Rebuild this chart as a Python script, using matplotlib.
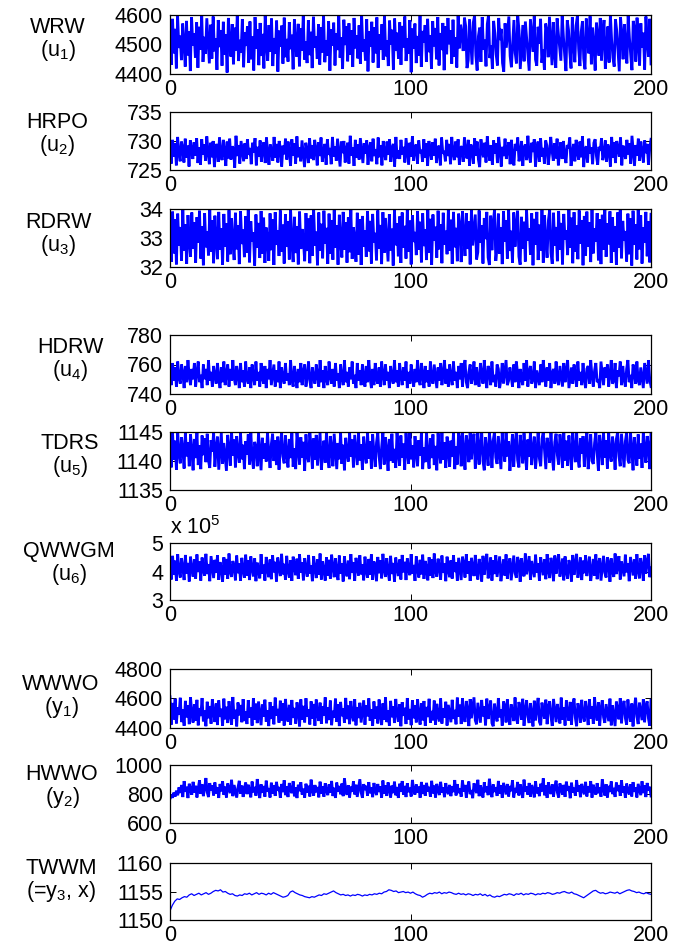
import numpy as np
import matplotlib
matplotlib.use('Agg')
import matplotlib.pyplot as plt

plt.rcParams['font.family'] = ['Liberation Sans', 'DejaVu Sans']
plt.rcParams['mathtext.fontset'] = 'custom'
plt.rcParams['mathtext.rm'] = 'Liberation Sans'
plt.rcParams['mathtext.default'] = 'regular'

# Signals (time axis 0..200)

wrw = [4512,4431,4587,4470,4553,4419,4596,4488,4530,4447,4571,4502,4425,4580,4463,4544,4410,4592,4497,4538,
       4456,4575,4421,4560,4483,4600,4441,4526,4468,4589,4509,4436,4567,4452,4595,4477,4520,4414,4583,4491,
       4549,4428,4577,4466,4534,4405,4590,4506,4459,4569,4433,4557,4480,4599,4444,4516,4472,4586,4423,4541,
       4495,4562,4438,4578,4450,4527,4412,4593,4486,4551,4430,4573,4461,4536,4419,4597,4503,4445,4566,4475,
       4588,4427,4522,4468,4581,4408,4547,4492,4564,4435,4591,4457,4519,4442,4576,4484,4533,4416,4585,4500,
       4458,4570,4426,4555,4479,4598,4449,4511,4437,4582,4464,4543,4420,4594,4489,4528,4451,4568,4432,4559,
       4473,4600,4440,4515,4462,4579,4411,4552,4496,4574,4429,4537,4481,4596,4455,4524,4417,4584,4498,4561,
       4443,4572,4466,4548,4424,4590,4487,4531,4453,4565,4434,4599,4476,4518,4446,4586,4409,4545,4493,4577,
       4439,4558,4470,4592,4421,4535,4483,4569,4448,4600,4460,4513,4427,4581,4499,4550,4415,4588,4478,4540,
       4452,4575,4431,4563,4490,4595,4444,4521,4468,4583,4406,4554,4485,4571,4437,4529,4462,4597,4424,4546,
       4507,4566,4441,4587,4474,4532,4418,4579,4494,4556,4450,4593,4429,4539,4481,4573,4413,4562,4467,4590,
       4501,4548,4435,4584,4458,4525,4422,4598,4487,4567,
       4533,4478,4591,4562,4420,4447,4586,4509,4432,4575,4598,4463,4412,4528,4557,4441,4593,4482,4516,4426,
       4569,4600,4454,4497,4418,4580,4538,4466,4429,4590,4515,4553,4437,4408,4572,4489,4544,4595,4461,4423,
       4506,4583,4471,4436,4597,4548,4417,4492,4566,4443,4578,4521,4459,4411,4586,4532,4475,4600,4449,4428,
       4560,4502,4587,4438,4483,4414,4571,4545,4457,4594,4511,4430,4576,4468,4421,4589,4537,4491,4445,4599,
       4526,4463,4410,4582,4550,4474,4419,4592,4508,4440,4565,4597,4485,4427,4543,4579,4452,4416,4588,4519,
       4470,4596,4433,4557,4499,4412,4574,4528,4462,4590,4446,4535,4583,4418,4481,4561,4439,4600,4514,4456,
       4425,4585,4547,4477,4409,4593,4530,4450,4569,4493,4436,4598,4523,4465,4413,4580,4556,4442,4591,4504,
       4429,4572,4489,4540,4415,4595,4518,4458,4587,4434]

hrpo = [728.4,726.1,730.2,727.3,729.6,725.8,730.7,727.9,726.5,729.9,728.8,726.3,730.4,727.1,729.2,725.6,730.1,728.6,726.9,729.8,
        727.5,730.5,726.2,728.9,725.9,730.3,727.7,729.4,726.6,730.8,728.1,726.0,729.7,727.2,730.0,725.5,728.7,729.5,726.4,730.6,
        727.8,726.7,730.2,728.3,725.7,729.9,727.0,730.4,726.8,729.1,728.5,725.4,730.9,727.4,729.3,726.1,730.0,728.2,726.5,729.6,
        726.9,730.3,727.6,728.8,726.0,729.7,728.0,730.5,725.8,729.0,727.3,730.1,726.4,728.6,729.8,726.2,730.6,727.9,725.9,729.4,
        728.3,726.6,730.7,727.1,729.5,726.3,730.0,728.7,725.6,729.2,727.7,730.4,726.8,729.9,728.1,725.7,730.3,727.5,729.6,726.1,
        730.8,727.2,728.9,726.5,730.1,727.8,725.5,729.7,728.4,726.2,730.5,727.0,729.3,726.7,730.2,728.6,725.8,729.8,727.4,730.6,
        726.4,728.2,729.5,725.9,730.3,727.6,728.8,726.0,730.7,727.3,729.1,726.6,730.4,728.0,725.6,729.9,727.9,730.0,726.3,728.5,
        729.7,726.1,730.9,727.5,728.9,725.7,730.2,727.1,729.4,726.8,730.5,728.3,726.2,729.6,727.8,730.1,725.9,728.7,729.8,726.5,
        730.4,727.4,728.6,726.0,730.6,727.2,729.3,725.8,730.0,728.1,726.7,729.9,727.6,730.3,726.4,728.8,729.5,725.6,730.7,727.0,
        728.4,726.9,730.2,727.7,729.0,726.3,730.5,728.2,725.9,729.7,727.3,730.8,726.6,728.9,729.4,726.1,730.1,727.9,728.5,726.4,
        730.3,727.1,729.6,725.7,730.0,728.6,726.8,729.8,727.5,730.4,726.2,728.7,729.2,725.8,730.6,727.8,728.3,726.5,730.2,727.4,
        729.5,726.0,730.7,728.0,726.7,729.9,727.2,730.3,725.9,728.8,
        729.1,726.4,730.6,728.2,727.0,730.2,725.7,729.4,728.8,726.1,730.5,727.5,729.9,726.8,725.5,730.3,728.4,727.2,729.7,726.3,
        730.8,728.0,726.6,729.3,725.9,730.1,727.8,729.6,726.2,730.7,728.5,725.6,729.0,727.4,730.4,726.9,728.7,729.8,726.0,730.2,
        727.1,725.8,729.5,728.3,730.6,726.5,727.9,730.0,725.7,728.9,729.4,726.7,730.9,727.6,726.3,729.7,728.1,730.3,725.6,728.6,
        729.9,726.4,730.5,727.3,728.8,726.1,730.1,729.2,725.9,727.7,730.7,728.4,726.6,729.6,727.0,730.4,725.8,728.2,729.8,726.9,
        730.0,727.5,726.2,729.3,728.7,730.6,725.7,727.9,729.5,726.5,730.2,728.0,726.8,729.9,727.2,730.8,725.5,728.5,729.1,726.3,
        730.4,727.8,728.9,726.0,729.7,730.3,727.4,725.9,729.0,728.3,730.5,726.7,727.6,730.1,726.4,729.4,728.6,725.6,730.7,727.1,
        729.8,726.2,730.0,728.8,727.3,730.6,725.8,729.2,728.1,726.9,730.2,727.7,729.6,726.1,730.9,728.4,725.7,729.3,727.5,730.4,
        726.6,729.9,728.2,726.3,730.1,727.9,729.5,725.9,728.7,730.3]

rdrw = [33.12,32.18,33.91,32.47,33.65,32.09,33.84,32.73,33.38,32.22,33.97,32.56,33.47,32.11,33.79,32.91,32.35,33.88,32.64,33.55,
        32.15,33.72,32.83,33.94,32.29,33.41,32.06,33.86,32.68,33.23,32.40,33.99,32.52,33.61,32.13,33.77,32.95,32.27,33.90,32.59,
        33.33,32.08,33.83,32.71,33.50,32.19,33.96,32.44,33.68,32.88,32.24,33.87,32.61,33.44,32.10,33.92,32.79,33.29,32.34,33.75,
        32.50,33.98,32.16,33.58,32.87,33.19,32.05,33.81,32.66,33.52,32.31,33.93,32.45,33.70,32.14,33.36,32.97,32.21,33.85,32.58,
        33.64,32.07,33.89,32.76,33.27,32.38,33.95,32.53,33.46,32.12,33.82,32.69,33.57,32.26,33.99,32.84,32.17,33.73,32.48,33.40,
        32.09,33.91,32.62,33.31,32.93,32.20,33.86,32.55,33.67,32.13,33.78,32.39,33.97,32.74,33.22,32.06,33.88,32.57,33.49,32.30,
        33.94,32.80,33.35,32.11,33.84,32.46,33.62,32.25,33.96,32.67,33.43,32.08,33.80,32.89,32.33,33.90,32.60,33.54,32.15,33.71,
        32.51,33.98,32.28,33.37,32.96,32.18,33.87,32.42,33.65,32.07,33.76,32.70,33.26,32.35,33.93,32.54,33.59,32.12,33.83,32.85,
        33.18,32.23,33.95,32.63,33.45,32.10,33.89,32.49,33.69,32.92,32.19,33.82,32.57,33.32,32.05,33.97,32.75,33.51,32.37,33.74,
        32.14,33.88,32.66,33.42,32.29,33.99,32.53,33.60,32.09,33.79,32.86,33.21,32.41,33.92,32.59,33.56,32.16,33.85,32.72,33.30,
        32.24,33.96,32.50,33.66,32.07,33.81,32.90,33.39,32.32,33.94,32.61,33.48,32.13,33.87,32.77,33.25,32.44,33.98,32.56,33.63,
        32.11,33.90,32.68,33.35,32.20,33.84,
        33.41,32.17,33.93,33.06,32.38,33.86,32.62,33.58,32.09,33.97,32.74,33.29,33.81,32.26,32.51,33.95,32.83,33.44,32.12,33.69,
        32.96,33.90,32.33,32.07,33.77,32.58,33.53,33.98,32.21,32.68,33.84,32.45,33.37,32.10,33.92,32.87,33.61,32.29,33.99,32.55,
        33.25,32.14,33.88,32.70,33.48,33.94,32.36,32.08,33.73,32.63,33.56,32.19,33.97,32.91,33.33,32.43,33.85,32.06,33.66,32.77,
        33.90,32.24,33.46,32.57,33.99,32.15,33.79,32.85,32.32,33.60,33.96,32.49,32.11,33.87,32.73,33.38,32.20,33.93,32.60,33.52,
        32.09,33.83,32.94,33.27,32.41,33.98,32.66,33.70,32.13,33.89,32.52,33.43,32.27,33.95,32.81,33.62,32.06,33.76,32.39,33.91,
        32.71,33.55,32.17,33.97,32.47,33.34,32.88,33.86,32.23,33.64,32.10,33.80,32.59,33.99,32.35,33.50,32.78,33.92,32.14,33.71,
        32.53,33.40,32.08,33.88,32.67,33.96,32.30,33.59,32.90,33.24,32.19,33.84,32.44,33.68,32.05,33.94,32.76,33.47,32.26,33.99,
        32.61,33.78,32.12,33.36,32.84,33.90,32.37,33.57,32.16,33.82]

hdrw = [756,746,761,749,758,745,762,751,747,760,754,744,759,748,763,752,746,757,750,761,
        745,755,762,748,753,744,760,750,757,746,763,749,755,745,759,752,747,761,751,744,
        758,748,762,746,754,760,745,757,749,763,751,746,759,753,744,761,748,756,745,762,
        750,747,758,744,760,752,746,762,749,755,745,761,751,747,759,744,757,750,763,746,
        753,760,745,756,748,762,744,758,751,747,761,749,754,746,763,750,745,759,752,744,
        757,748,761,746,755,760,745,752,762,749,744,758,751,747,760,753,745,763,748,756,
        744,759,750,746,762,752,747,757,745,761,749,754,744,760,751,746,763,748,755,745,
        758,750,762,747,753,744,761,749,756,746,760,752,745,759,748,763,751,744,757,746,
        761,750,747,758,745,762,753,746,760,749,755,744,759,751,747,763,748,756,745,761,
        752,746,758,749,762,744,755,747,760,751,745,757,748,763,750,746,761,753,744,759,
        748,756,745,762,750,747,760,752,744,758,749,761,746,754,763,747,757,745,760,751,
        746,762,749,755,744,759,
        750,761,745,757,763,748,744,755,760,747,752,762,746,758,749,745,761,753,747,763,
        751,744,759,756,746,762,748,753,745,760,757,744,750,761,747,755,763,746,749,758,
        752,745,760,748,762,754,744,757,751,746,761,749,763,745,755,759,747,750,762,744,
        756,751,746,760,748,763,753,745,758,749,761,744,754,757,747,762,750,746,759,752,
        745,761,748,756,763,744,751,758,747,760,753,745,762,749,755,746,761,750,744,757,
        759,747,763,752,745,756,761,748,750,744,762,754,746,758,751,760,745,753,763,747,
        749,761,744,756,752,762,746,759,750,745,757,763,748,753,744,760,755,747,762,749,
        746,758,751,744,761,754,747,763,750,745]

tdrs = [1142.6,1138.9,1144.8,1140.2,1143.5,1138.5,1145.0,1141.3,1139.6,1144.1,1142.0,1138.7,1144.9,1140.8,1143.2,1139.1,1144.6,1141.9,1138.4,1143.8,
        1140.5,1145.0,1139.3,1142.7,1138.6,1144.4,1141.0,1143.9,1139.8,1144.7,1140.1,1138.8,1143.6,1141.6,1145.0,1139.0,1142.3,1144.2,1138.5,1141.8,
        1144.9,1139.5,1143.1,1140.6,1138.3,1144.5,1142.1,1139.2,1145.0,1140.9,1143.7,1138.9,1144.3,1141.4,1139.7,1144.8,1140.3,1142.8,1138.6,1143.4,
        1141.1,1144.6,1139.4,1145.0,1140.7,1138.7,1143.3,1142.4,1139.1,1144.9,1141.7,1138.4,1144.0,1140.4,1143.0,1139.9,1145.0,1141.5,1138.8,1142.9,
        1144.7,1140.0,1143.6,1139.3,1144.2,1138.5,1142.5,1145.0,1140.8,1139.6,1144.4,1141.2,1138.9,1143.8,1140.5,1144.8,1139.0,1142.2,1138.6,1145.0,
        1141.9,1139.4,1144.1,1140.6,1143.3,1138.3,1144.6,1141.0,1139.8,1145.0,1142.6,1138.7,1143.9,1140.2,1144.5,1139.2,1142.0,1144.9,1138.5,1141.4,
        1143.5,1139.7,1145.0,1140.9,1138.8,1144.3,1142.2,1139.1,1144.7,1141.6,1138.6,1143.1,1140.3,1144.9,1139.5,1142.8,1138.4,1144.0,1141.3,1139.9,
        1145.0,1140.7,1143.7,1138.9,1144.5,1141.8,1139.3,1144.8,1140.1,1142.9,1138.5,1144.2,1141.1,1139.6,1145.0,1140.4,1143.4,1138.7,1144.6,1141.5,
        1139.0,1143.2,1144.9,1140.8,1138.6,1142.4,1145.0,1139.4,1144.1,1141.9,1138.3,1143.8,1140.0,1144.7,1139.7,1142.1,1138.8,1145.0,1141.2,1139.2,
        1144.4,1140.6,1143.0,1138.5,1144.8,1141.7,1139.5,1145.0,1140.3,1142.7,1138.9,1144.3,1141.4,1139.1,1143.6,1140.9,1144.9,1138.6,1142.3,1139.8,
        1145.0,1141.0,1138.7,1143.9,1140.5,1144.6,1139.3,1142.6,1138.4,1144.8,1141.6,1139.6,1145.0,1140.2,1143.2,1138.8,1144.2,1141.8,1139.0,1143.5,
        1140.7,1144.9,1138.6,1142.5,1139.4,1145.0,
        1143.9,1139.1,1145.0,1141.6,1138.5,1144.4,1142.8,1139.8,1145.0,1140.3,1143.2,1144.7,1138.7,1141.1,1144.9,1139.4,1142.5,1145.0,1140.0,1138.4,
        1144.1,1141.8,1139.2,1144.8,1142.9,1138.8,1143.6,1145.0,1140.6,1139.5,1144.3,1141.4,1138.6,1144.9,1142.2,1139.9,1145.0,1140.8,1143.4,1138.3,
        1141.7,1144.6,1139.0,1143.0,1145.0,1140.2,1138.9,1144.5,1142.6,1139.6,1144.8,1141.2,1138.5,1143.7,1140.7,1145.0,1139.3,1142.0,1144.2,1138.7,
        1141.5,1144.9,1140.4,1139.1,1143.8,1145.0,1141.9,1138.6,1144.0,1142.4,1139.7,1145.0,1140.9,1138.4,1143.3,1144.7,1141.0,1139.4,1144.6,1142.7,
        1138.8,1145.0,1140.1,1143.5,1139.2,1144.4,1141.6,1138.5,1144.9,1142.1,1139.8,1145.0,1140.5,1138.9,1143.9,1141.3,1144.3,1139.0,1142.8,1145.0,
        1138.6,1141.8,1144.6,1140.0,1139.5,1143.1,1145.0,1141.4,1138.3,1144.5,1142.5,1139.3,1144.8,1140.6,1143.6,1138.7,1145.0,1141.1,1139.9,1144.2,
        1142.3,1138.5,1143.8,1145.0,1140.8,1139.1,1144.7,1141.7,1138.9,1143.4,1144.9,1140.2,1139.6,1145.0,1142.0,1138.4,1144.1,1141.5,1139.2,1144.6,
        1140.4,1143.0,1138.8,1145.0,1141.9,1139.7,1144.3,1142.6,1138.6,1144.9]

# QWWGM in units of 1e5
qwwgm = [4.21,3.72,4.55,3.88,4.38,3.67,4.61,4.02,3.79,4.47,4.13,3.70,4.58,3.93,4.30,3.65,4.52,4.09,3.82,4.43,
         3.75,4.60,3.98,4.35,3.68,4.49,4.06,3.85,4.62,3.91,4.26,3.66,4.54,4.16,3.77,4.41,3.95,4.57,3.71,4.33,
         4.11,3.64,4.50,3.89,4.44,3.74,4.63,4.00,3.81,4.37,4.19,3.69,4.56,3.94,4.28,3.67,4.48,4.05,3.78,4.59,
         3.86,4.40,3.70,4.53,4.12,3.83,4.46,3.66,4.31,4.01,3.76,4.61,3.92,4.24,3.68,4.51,4.08,3.80,4.42,3.73,
         4.57,3.97,4.34,3.65,4.49,4.14,3.84,4.62,3.90,4.27,3.71,4.55,4.03,3.79,4.39,3.67,4.52,4.17,3.87,4.45,
         3.74,4.60,3.96,4.32,3.69,4.47,4.07,3.82,4.58,3.93,4.22,3.66,4.54,4.10,3.77,4.43,3.89,4.63,3.72,4.36,
         4.04,3.68,4.50,3.85,4.41,3.75,4.59,4.15,3.80,4.46,3.99,3.70,4.56,3.92,4.29,3.65,4.53,4.06,3.83,4.38,
         3.73,4.61,3.95,4.33,3.67,4.48,4.11,3.86,4.57,3.90,4.25,3.69,4.52,4.02,3.78,4.44,3.88,4.60,3.71,4.35,
         4.18,3.66,4.51,3.94,4.40,3.76,4.62,4.08,3.81,4.47,4.00,3.68,4.55,3.91,4.30,3.64,4.49,4.13,3.84,4.42,
         3.72,4.58,3.97,4.34,3.70,4.46,4.05,3.87,4.61,3.93,4.23,3.67,4.53,4.09,3.79,4.41,3.90,4.59,3.74,4.37,
         4.12,3.69,4.50,3.86,4.43,3.77,4.63,4.01,3.82,4.45,4.16,3.71,4.56,3.95,4.28,3.66,4.52,4.07,3.80,4.39,
         3.75,4.57,3.98,4.32,3.68,4.48,
         4.09,3.70,4.52,4.27,3.79,4.61,3.93,4.36,3.67,4.48,4.14,3.84,4.58,3.98,3.72,4.44,4.20,3.65,4.55,3.89,
         4.31,4.62,3.76,4.03,4.49,3.68,4.39,3.91,4.57,3.81,4.17,4.53,3.66,4.06,4.42,3.86,4.60,3.74,4.25,4.46,
         3.69,4.12,4.56,3.95,3.78,4.51,4.33,3.64,4.47,4.00,3.83,4.63,3.90,4.22,4.54,3.71,4.37,4.08,3.80,4.59,
         3.96,4.29,3.67,4.50,4.15,3.87,4.43,3.73,4.61,4.04,3.77,4.48,4.19,3.66,4.56,3.92,4.34,4.60,3.82,4.11,
         4.45,3.69,4.53,3.99,3.75,4.40,4.23,3.65,4.58,3.88,4.30,4.62,3.78,4.07,4.49,3.70,4.38,3.94,4.57,3.84,
         4.16,4.52,3.67,4.02,4.44,3.85,4.60,3.73,4.26,4.47,3.68,4.13,4.55,3.96,3.79,4.50,4.32,3.64,4.46,4.01,
         3.81,4.63,3.91,4.21,4.54,3.72,4.36,4.10,3.83,4.59,3.97,4.28,3.66,4.51,4.18,3.86,4.42,3.74,4.61,4.05,
         3.76,4.47,4.20,3.67,4.57,3.93,4.35,4.62,3.80,4.12]

wwwo = [4612,4423,4570,4458,4598,4431,4541,4489,4605,4440,4527,4415,4584,4472,4553,4426,4609,4496,4437,4562,
        4450,4591,4418,4535,4481,4603,4445,4518,4412,4578,4466,4549,4429,4595,4503,4441,4566,4420,4587,4475,
        4531,4414,4599,4459,4544,4434,4582,4492,4422,4610,4463,4524,4411,4573,4486,4556,4439,4596,4447,4513,
        4427,4589,4470,4538,4416,4601,4455,4565,4433,4580,4499,4419,4559,4478,4592,4443,4521,4413,4576,4461,
        4547,4425,4606,4483,4529,4436,4585,4451,4568,4417,4597,4491,4444,4557,4421,4590,4468,4536,4430,4574,
        4508,4411,4594,4457,4550,4438,4602,4476,4525,4424,4581,4462,4563,4415,4593,4494,4448,4572,4428,4546,
        4485,4608,4432,4539,4454,4586,4419,4517,4471,4599,4442,4561,4413,4577,4480,4533,4435,4604,4460,4552,
        4426,4583,4493,4446,4596,4418,4542,4467,4571,4437,4511,4588,4422,4555,4479,4601,4449,4528,4414,4580,
        4464,4545,4431,4593,4487,4420,4567,4456,4607,4440,4520,4416,4584,4473,4548,4434,4597,4501,4443,4560,
        4412,4575,4482,4537,4427,4603,4458,4529,4419,4589,4466,4554,4438,4595,4490,4423,4569,4452,4583,4415,
        4543,4474,4598,4436,4516,4452,4586,4421,4564,4484,4445,4600,4430,4534,4469,4578,4417,4557,4497,4439,
        4591,4461,4523,4425,4606,4477,
        4558,4427,4601,4490,4441,4583,4519,4413,4596,4466,4537,4608,4452,4425,4571,4503,4436,4590,4479,4548,
        4418,4599,4461,4530,4586,4433,4412,4565,4497,4445,4603,4472,4525,4416,4580,4551,4438,4594,4484,4421,
        4560,4513,4447,4607,4469,4429,4576,4540,4456,4598,4415,4522,4589,4476,4434,4569,4495,4411,4585,4452,
        4533,4604,4442,4419,4572,4507,4463,4592,4426,4546,4581,4478,4414,4597,4520,4440,4563,4488,4431,4606,
        4455,4539,4417,4587,4501,4449,4577,4423,4553,4600,4470,4412,4568,4528,4437,4591,4482,4444,4583,4511,
        4420,4595,4464,4546,4428,4609,4493,4451,4574,4416,4531,4588,4473,4435,4562,4505,4446,4599,4418,4555,
        4486,4413,4579,4524,4459,4602,4432,4541,4584,4467,4422,4593,4499,4443,4566,4411,4536,4605,4476,4427,
        4573,4512,4453,4596,4439,4549,4581,4465,4415,4589]

hwwo = [768,795,774,810,782,823,791,846,807,862,779,889,815,850,772,871,831,795,884,809,
        857,776,838,894,801,866,785,842,910,812,779,875,826,859,790,880,804,847,773,869,
        818,888,794,851,776,873,833,806,898,785,862,817,775,845,891,802,858,780,836,879,
        799,864,824,777,886,811,849,788,903,829,772,867,808,855,781,892,816,840,776,878,
        801,861,787,884,822,848,774,869,813,895,792,853,779,876,827,806,888,784,846,772,
        864,819,881,796,837,775,871,809,857,783,899,826,789,862,812,848,777,885,803,854,
        781,874,823,792,866,808,890,786,843,773,879,817,855,798,872,785,907,830,794,861,
        776,851,815,887,797,864,780,841,902,811,774,868,828,857,789,882,805,846,778,876,
        821,793,869,814,853,775,893,802,860,787,880,834,776,858,806,885,791,848,773,871,
        818,889,795,856,779,874,812,843,783,897,825,796,866,810,851,774,883,800,862,788,
        877,816,849,781,891,804,858,776,870,827,793,884,809,846,778,875,821,799,863,785,
        852,813,896,790,868,806,
        839,781,893,817,862,775,848,886,799,827,771,874,844,806,898,785,859,823,776,881,
        812,853,792,905,829,778,866,814,847,787,890,802,861,774,877,836,797,869,783,855,
        819,894,776,841,808,883,790,867,825,773,899,815,852,795,876,782,862,831,777,888,
        804,846,785,871,818,908,791,858,773,880,827,800,866,782,849,892,810,776,873,836,
        795,863,780,885,822,854,771,878,809,843,788,896,816,860,778,870,829,798,884,783,
        851,811,889,775,864,822,796,875,805,847,781,901,833,790,868,776,856,814,887,799,
        842,780,879,820,861,787,894,808,853,774,872,826,797,866,783,882,815,845,776,870,
        831,792,888,806,859,779,876,823,850,786]

twwm = [1151.6,1152.6,1153.3,1153.7,1153.6,1153.9,1154.1,1154.0,1154.4,1154.6,
        1154.3,1154.5,1154.7,1154.4,1154.6,1154.8,1154.5,1154.7,1155.0,1155.2,
        1155.1,1155.3,1154.9,1155.0,1154.7,1154.5,1154.6,1154.3,1154.2,1154.4,
        1154.3,1154.6,1154.5,1154.7,1154.4,1154.6,1154.8,1154.5,1154.7,1154.6,
        1154.4,1154.7,1154.5,1154.8,1154.6,1154.4,1154.2,1154.0,1154.1,1154.3,
        1154.9,1155.1,1154.8,1154.6,1154.4,1154.3,1154.1,1154.0,1153.9,1154.1,
        1154.0,1154.2,1154.4,1154.3,1154.6,1154.5,1154.7,1154.9,1155.1,1154.8,
        1154.6,1154.4,1154.5,1154.3,1154.4,1154.2,1154.4,1154.3,1154.5,1154.4,
        1154.2,1154.4,1154.3,1154.5,1154.4,1154.6,1154.5,1154.7,1154.6,1154.9,
        1155.0,1155.3,1155.2,1155.0,1155.1,1154.8,1154.9,1155.0,1154.8,1154.9,
        1154.7,1154.9,1154.6,1154.4,1154.3,1154.0,1154.2,1154.5,1154.7,1154.6,
        1154.8,1154.7,1154.9,1154.6,1154.8,1154.7,1154.9,1154.8,1154.6,1154.5,
        1154.7,1154.5,1154.6,1154.4,1154.6,1154.5,1154.3,1154.5,1154.4,1154.6,
        1154.3,1154.5,1154.2,1154.4,1154.1,1154.0,1154.2,1154.1,1154.3,1154.5,
        1154.4,1154.6,1154.5,1154.3,1154.6,1154.5,1154.7,1154.4,1154.6,1154.5,
        1154.7,1154.6,1154.4,1154.6,1154.5,1154.7,1154.6,1154.8,1154.7,1154.5,
        1154.6,1154.8,1154.7,1154.9,1155.0,1154.8,1154.7,1154.9,1154.6,1154.5,
        1154.3,1154.1,1153.9,1154.2,1154.5,1154.8,1155.1,1155.2,1154.9,1154.7,
        1154.8,1154.6,1154.7,1154.9,1154.8,1154.7,1154.9,1154.6,1154.8,1155.0,
        1155.2,1155.3,1155.1,1155.0,1154.8,1154.9,1154.7,1154.6,1154.8,1154.6,1154.5]

series = [wrw, hrpo, rdrw, hdrw, tdrs, qwwgm, wwwo, hwwo, twwm]
names = ['WRW\n(u$_1$)', 'HRPO\n(u$_2$)', 'RDRW\n(u$_3$)', 'HDRW\n(u$_4$)', 'TDRS\n(u$_5$)',
         'QWWGM\n(u$_6$)', 'WWWO\n(y$_1$)', 'HWWO\n(y$_2$)', 'TWWM\n(=y$_3$, x)']
yticks = [[4400, 4500, 4600], [725, 730, 735], [32, 33, 34], [740, 760, 780], [1135, 1140, 1145],
          [3, 4, 5], [4400, 4600, 4800], [600, 800, 1000], [1150, 1155, 1160]]
xticks = [0, 100, 200]

# layout in pixels (top, bottom of each axes box) and label centres
W, H = 688, 950
boxes = [(15, 74), (112, 170), (209, 267), (335, 394), (432, 490),
         (543, 600), (669, 728), (765, 823), (863, 920)]
label_xy = [(58, 40), (57, 135), (58, 235), (70, 360), (70, 456),
            (69, 564), (61, 697), (62, 787), (61, 881)]

fig = plt.figure(figsize=(W / 100, H / 100), dpi=100)
fs = 15.5

for i in range(9):
    top, bot = boxes[i]
    ax = fig.add_axes([170 / W, 1 - bot / H, 481 / W, (bot - top) / H])
    y = np.array(series[i])
    t = np.linspace(0, 200, len(y))
    if i == 8:
        ax.plot(t, y, color=(0, 0, 1), lw=0.9)
    else:
        ax.plot(t, y, color=(0, 0, 1), lw=2.0, solid_joinstyle='bevel')
    ax.set_xlim(0, 200)
    ax.set_ylim(yticks[i][0], yticks[i][-1])
    ax.set_yticks(yticks[i])
    ax.set_xticks(xticks)
    ax.tick_params(direction='in', length=4, width=0.7, labelsize=fs,
                   top=True, right=True)
    ax.tick_params(axis='y', pad=5)
    ax.tick_params(axis='x', pad=3.5)
    for s in ax.spines.values():
        s.set_linewidth(0.9)
        s.set_zorder(3)
    cx, cy = label_xy[i]
    fig.text(cx / W, 1 - cy / H, names[i], ha='center', va='center',
             fontsize=fs, linespacing=1.05)

fig.text(170 / W, 1 - 528 / H, 'x 10$^5$', ha='left', va='center', fontsize=fs)

fig.savefig('out.png', dpi=100)
